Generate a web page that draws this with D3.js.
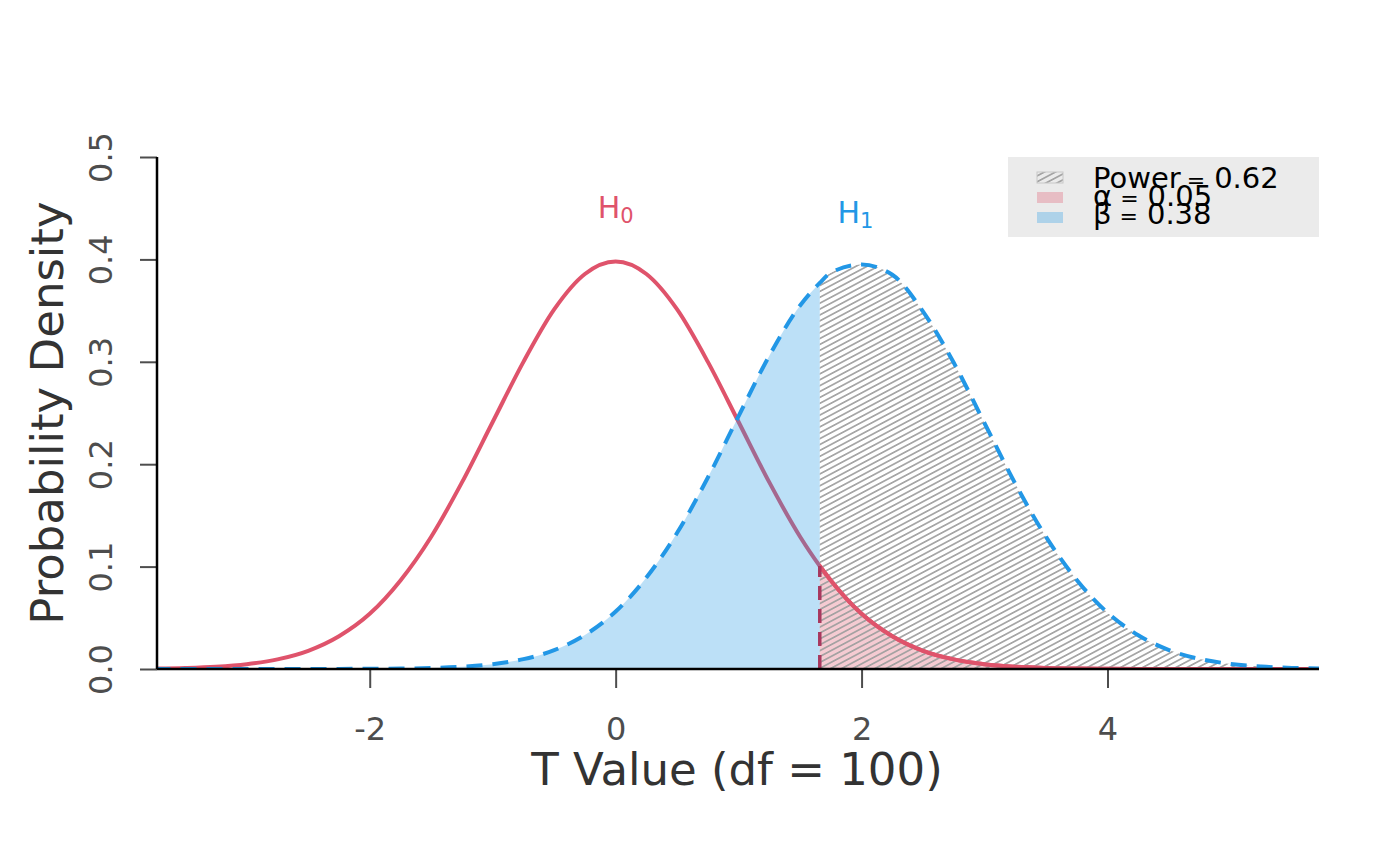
<!DOCTYPE html>
<html>
<head>
<meta charset="utf-8">
<script src="https://cdn.jsdelivr.net/npm/d3@7"></script>
<style>
  body { margin: 0; background: #fff; }
  text { font-family: "DejaVu Sans", sans-serif; }
</style>
</head>
<body>
<div id="container"></div>
<script>
// Valeurs
const tValues = [-3.75, -3.5, -3.25, -3, -2.75, -2.5, -2.25, -2, -1.75, -1.5, -1.25, -1, -0.75, -0.5, -0.25,
  0, 0.25, 0.5, 0.75, 1, 1.25, 1.5, 1.66, 1.75, 2, 2.25, 2.5, 2.75, 3, 3.25, 3.5, 3.75, 4, 4.25, 4.5, 4.75, 5, 5.25, 5.5, 5.75];
const densityH0 = [0.0004, 0.0010, 0.0022, 0.0047, 0.0094, 0.0178, 0.0320, 0.0539, 0.0865, 0.1292, 0.1822, 0.2412, 0.2999, 0.3511, 0.3857,
  0.3979, 0.3857, 0.3511, 0.2999, 0.2412, 0.1822, 0.1292, 0.1006, 0.0865, 0.0539, 0.0320, 0.0178, 0.0094, 0.0047, 0.0022, 0.0010, 0.0004, 0.0002, 0.0001, 0, 0, 0, 0, 0, 0];
const densityH1 = [0, 0, 0, 0, 0, 0, 0.0001, 0.0002, 0.0004, 0.0009, 0.0022, 0.0047, 0.0096, 0.0184, 0.0332,
  0.0561, 0.0893, 0.1330, 0.1870, 0.2470, 0.3060, 0.3550, 0.3770, 0.3870, 0.3950, 0.3850, 0.3490, 0.2990, 0.2400, 0.1810, 0.1290, 0.0870, 0.0550, 0.0330, 0.0185, 0.0098, 0.0050, 0.0024, 0.0011, 0.0005];
const criticalT = 1.66;
const xTicks = [-2, 0, 2, 4];
const yTicks = [0, 0.1, 0.2, 0.3, 0.4, 0.5];
const legendLabels = [
  { name: "Power", value: "0.62", key: "power" },
  { name: "α", value: "0.05", key: "alpha" },
  { name: "β", value: "0.38", key: "beta" }
];

const W = 1400, H = 866;
const pLeft = 157, pRight = 1319, pTop = 157, pBottom = 669;
const red = "#DF536B", blue = "#2297E6";

const svg = d3.select("#container").append("svg")
  .attr("width", W).attr("height", H);

const x = d3.scaleLinear().domain([-3.73, 5.72]).range([pLeft, pRight]);
const y = d3.scaleLinear().domain([0, 0.5]).range([pBottom, pTop]);

const pts = tValues.map((t, i) => ({ t, h0: densityH0[i], h1: densityH1[i] }));

// Motif hachuré
const defs = svg.append("defs");
defs.append("clipPath").attr("id", "plotclip")
  .append("rect").attr("x", pLeft).attr("y", 0).attr("width", pRight - pLeft).attr("height", pBottom);
const pat = defs.append("pattern")
  .attr("id", "hatch")
  .attr("patternUnits", "userSpaceOnUse")
  .attr("width", 10).attr("height", 5.2)
  .attr("patternTransform", "rotate(-28)");
pat.append("line")
  .attr("x1", 0).attr("y1", 2.6).attr("x2", 10).attr("y2", 2.6)
  .attr("stroke", "#9e9e9e").attr("stroke-width", 1.6);

const plot = svg.append("g").attr("clip-path", "url(#plotclip)");

const line = key => d3.line().x(d => x(d.t)).y(d => y(d[key])).curve(d3.curveMonotoneX);
const area = key => d3.area().x(d => x(d.t)).y0(y(0)).y1(d => y(d[key])).curve(d3.curveMonotoneX);

const leftPts = pts.filter(d => d.t <= criticalT);
const rightPts = pts.filter(d => d.t >= criticalT);

// Courbe H0
plot.append("path").datum(pts)
  .attr("d", line("h0"))
  .attr("fill", "none").attr("stroke", red).attr("stroke-width", 4);

// Zone beta
plot.append("path").datum(leftPts)
  .attr("d", area("h1"))
  .attr("fill", blue).attr("fill-opacity", 0.3);

// Zone alpha
plot.append("path").datum(rightPts)
  .attr("d", area("h0"))
  .attr("fill", red).attr("fill-opacity", 0.3);

// Puissance (hachures)
plot.append("path").datum(rightPts)
  .attr("d", area("h1"))
  .attr("fill", "url(#hatch)");

// Redessiner H0 à droite du seuil
plot.append("path").datum(rightPts)
  .attr("d", line("h0"))
  .attr("fill", "none").attr("stroke", red).attr("stroke-width", 4);

// Courbe H1 (pointillés)
plot.append("path").datum(pts)
  .attr("d", line("h1"))
  .attr("fill", "none").attr("stroke", blue).attr("stroke-width", 4)
  .attr("stroke-dasharray", "16,10");

// Ligne critique
const critH0 = densityH0[tValues.indexOf(criticalT)];
plot.append("line")
  .attr("x1", x(criticalT)).attr("x2", x(criticalT))
  .attr("y1", y(0)).attr("y2", y(critH0))
  .attr("stroke", "#A8385E").attr("stroke-width", 3.5)
  .attr("stroke-dasharray", "14,9");

// Étiquettes H0 / H1
const hLab = svg.append("g");
const h0t = hLab.append("text").attr("x", x(0)).attr("y", 218).attr("text-anchor", "middle")
  .attr("fill", red).style("font-size", "30px");
h0t.append("tspan").text("H");
h0t.append("tspan").attr("dy", 5).style("font-size", "21px").text("0");
const h1t = hLab.append("text").attr("x", x(1.95)).attr("y", 223).attr("text-anchor", "middle")
  .attr("fill", blue).style("font-size", "30px");
h1t.append("tspan").text("H");
h1t.append("tspan").attr("dy", 5).style("font-size", "21px").text("1");

// Axes
const xAxis = svg.append("g").attr("transform", `translate(0,${pBottom})`)
  .call(d3.axisBottom(x).tickValues(xTicks).tickSize(19).tickPadding(29).tickFormat(d => String(d)));
xAxis.select(".domain").remove();
xAxis.selectAll(".tick line").attr("stroke", "#4d4d4d").attr("stroke-width", 2);
xAxis.selectAll(".tick text").attr("fill", "#4d4d4d").style("font-size", "32px").style("font-family", "DejaVu Sans");
svg.append("line").attr("x1", pLeft).attr("x2", pRight).attr("y1", pBottom).attr("y2", pBottom)
  .attr("stroke", "#000").attr("stroke-width", 2.5);

const yAxis = svg.append("g").attr("transform", `translate(${pLeft},0)`)
  .call(d3.axisLeft(y).tickValues(yTicks).tickSize(17).tickFormat(d3.format(".1f")));
yAxis.select(".domain").remove();
yAxis.selectAll(".tick line").attr("stroke", "#4d4d4d").attr("stroke-width", 2);
yAxis.selectAll(".tick text")
  .attr("x", 0).attr("dy", null)
  .attr("transform", "translate(-45,0) rotate(-90)")
  .attr("text-anchor", "middle")
  .attr("fill", "#4d4d4d").style("font-size", "32px").style("font-family", "DejaVu Sans");
svg.append("line").attr("x1", pLeft).attr("x2", pLeft).attr("y1", pTop).attr("y2", pBottom)
  .attr("stroke", "#000").attr("stroke-width", 2.5);

// Titres des axes
svg.append("text").attr("x", 737).attr("y", 785).attr("text-anchor", "middle")
  .attr("fill", "#333").style("font-size", "45px").text("T Value (df = 100)");
svg.append("text").attr("transform", "translate(63,413) rotate(-90)")
  .attr("text-anchor", "middle")
  .attr("fill", "#333").style("font-size", "45px").text("Probability Density");

// Légende
const leg = svg.append("g");
leg.append("rect").attr("x", 1008).attr("y", 157).attr("width", 311).attr("height", 80).attr("fill", "#EBEBEB");
const keyY = [172, 192, 212];
const textY = [188, 206, 224];
legendLabels.forEach((d, i) => {
  const k = leg.append("rect").attr("x", 1037).attr("y", keyY[i]).attr("width", 26).attr("height", 11);
  if (d.key === "power") k.attr("fill", "url(#hatch)").attr("stroke", "#c8c8c8").attr("stroke-width", 1);
  else if (d.key === "alpha") k.attr("fill", red).attr("fill-opacity", 0.3);
  else k.attr("fill", blue).attr("fill-opacity", 0.3);
  const t = leg.append("text").attr("x", 1093).attr("y", textY[i]).attr("fill", "#000").style("font-size", "29px");
  t.append("tspan").text(d.name);
  t.append("tspan").style("font-size", "22px").attr("dx", i === 0 ? 6 : 8).text("=");
  t.append("tspan").attr("dx", 9).text(d.value);
});
</script>
</body>
</html>
